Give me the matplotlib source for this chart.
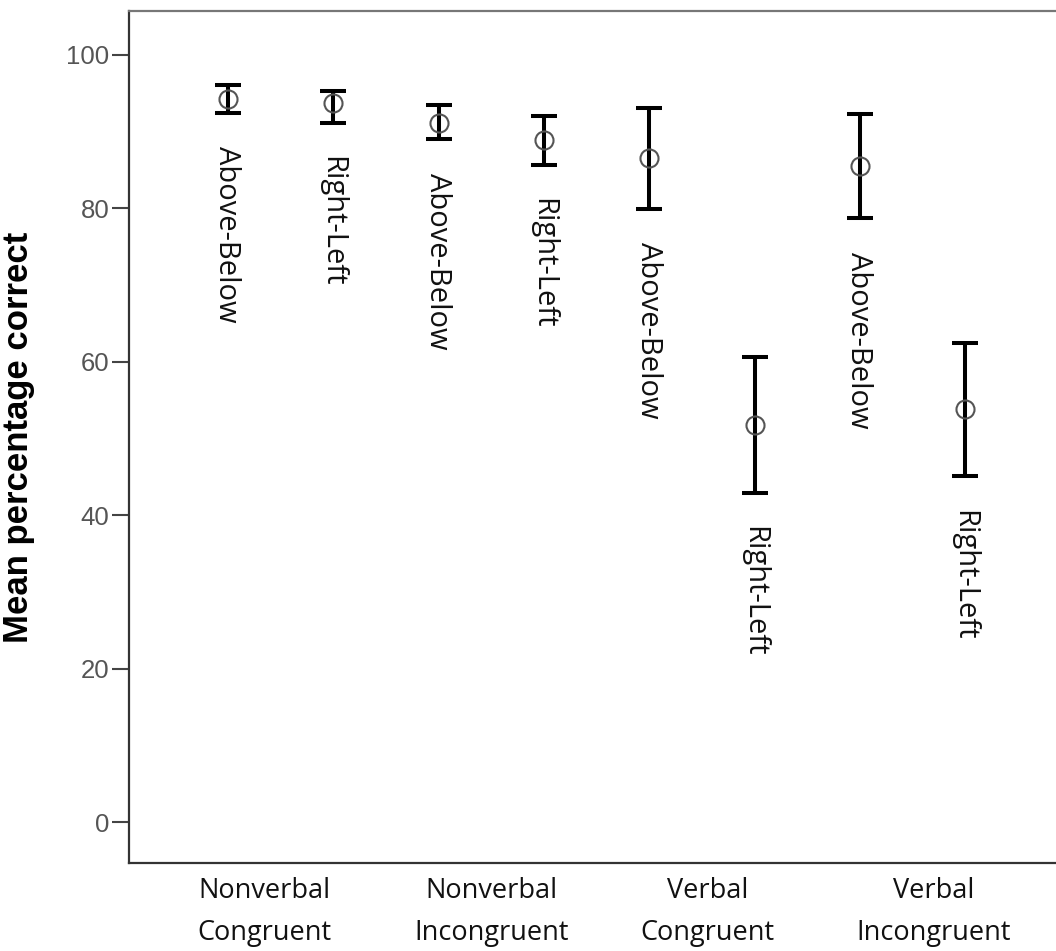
import matplotlib
matplotlib.use("Agg")
import matplotlib.pyplot as plt

# data
conditions = ["Above-Below", "Right-Left"] * 4
means = [94.3, 93.7, 91.1, 88.9, 86.6, 51.8, 85.5, 53.8]
upper = [96.1, 95.3, 93.5, 92.0, 93.1, 60.6, 92.3, 62.5]
lower = [92.4, 91.1, 89.0, 85.7, 79.9, 42.9, 78.7, 45.1]
groups = ["Nonverbal\nCongruent", "Nonverbal\nIncongruent",
          "Verbal\nCongruent", "Verbal\nIncongruent"]
group_pos = [0.35, 2.5, 4.55, 6.7]
yticks = [0, 20, 40, 60, 80, 100]

label_font = "Open Sans"

fig = plt.figure(figsize=(10.56, 9.51), dpi=100)
ax = fig.add_axes([0.1222, 0.0925, 0.8778, 0.8959])

x = list(range(len(means)))
err_lo = [m - l for m, l in zip(means, lower)]
err_hi = [u - m for m, u in zip(means, upper)]

ax.errorbar(x, means, yerr=[err_lo, err_hi], fmt="none", ecolor="black",
            elinewidth=2.9, capsize=9.5, capthick=2.9, zorder=2)
ax.plot(x, means, "o", markersize=13, markerfacecolor="none",
        markeredgecolor="#555555", markeredgewidth=1.5, zorder=3)

for xi, lo, txt in zip(x, lower, conditions):
    ax.annotate(txt, (xi, lo), xytext=(-1, -24), textcoords="offset points",
                rotation=-90, ha="center", va="top", fontsize=21,
                family=label_font, color="#111111")

ax.set_xlim(-0.94, 7.86)
ax.set_ylim(-5.3, 105.7)

ax.set_yticks(yticks)
ax.set_yticklabels([str(t) for t in yticks], family="Liberation Sans",
                   fontsize=18.5, color="#555555")
ax.tick_params(axis="y", length=12, width=1.5, color="#444444", pad=2)

ax.set_xticks(group_pos)
ax.set_xticklabels(groups, family=label_font, fontsize=19.5, color="#111111",
                   linespacing=1.65)
ax.tick_params(axis="x", length=0, pad=10)

ax.set_ylabel("Mean percentage correct", family="Liberation Sans",
              fontweight="bold", fontsize=25)
ax.yaxis.set_label_coords(-0.101, 0.5)

ax.spines["right"].set_visible(False)
ax.spines["left"].set_color("#333333")
ax.spines["bottom"].set_color("#333333")
ax.spines["top"].set_color("#777777")
for s in ["left", "bottom", "top"]:
    ax.spines[s].set_linewidth(1.6)

fig.savefig("out.png", dpi=100)
